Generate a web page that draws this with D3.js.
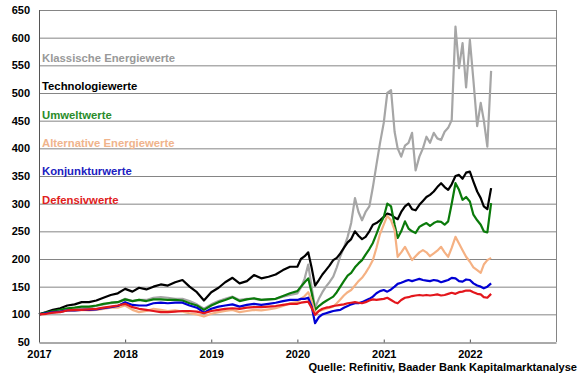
<!DOCTYPE html>
<html>
<head>
<meta charset="utf-8">
<script src="https://cdn.jsdelivr.net/npm/d3@7"></script>
<style>
  body { margin: 0; background: #fff; }
  text { font-family: "Liberation Sans", Arial, sans-serif; font-weight: bold; }
</style>
</head>
<body>
<svg id="chart" width="580" height="375"></svg>
<script>
// dates: monthly until 2019, half-monthly afterwards
var dates = [
  "2017-01-01","2017-02-01","2017-03-01","2017-04-01","2017-05-01","2017-06-01","2017-07-01","2017-08-01","2017-09-01","2017-10-01","2017-11-01","2017-12-01",
  "2018-01-01","2018-02-01","2018-03-01","2018-04-01","2018-05-01","2018-06-01","2018-07-01","2018-08-01","2018-09-01","2018-10-01","2018-11-01","2018-12-01",
  "2019-01-01","2019-02-01","2019-03-01","2019-04-01","2019-05-01","2019-06-01","2019-07-01","2019-08-01","2019-09-01","2019-10-01","2019-11-01","2019-12-01",
  "2020-01-01","2020-01-16","2020-02-01","2020-02-16","2020-03-01","2020-03-16","2020-04-01","2020-04-16","2020-05-01","2020-05-16","2020-06-01","2020-06-16",
  "2020-07-01","2020-07-16","2020-08-01","2020-08-16","2020-09-01","2020-09-16","2020-10-01","2020-10-16","2020-11-01","2020-11-16","2020-12-01","2020-12-16",
  "2021-01-01","2021-01-16","2021-02-01","2021-02-16","2021-03-01","2021-03-16","2021-04-01","2021-04-16","2021-05-01","2021-05-16","2021-06-01","2021-06-16",
  "2021-07-01","2021-07-16","2021-08-01","2021-08-16","2021-09-01","2021-09-16","2021-10-01","2021-10-16","2021-11-01","2021-11-16","2021-12-01","2021-12-16",
  "2022-01-01","2022-01-16","2022-02-01","2022-02-16","2022-03-01","2022-03-16","2022-04-01"
];

var klassischeEnergie = [
  100,102,104,106,108,108,111,112,115,118,120,122,
  128,124,126,126,130,131,130,128,128,124,118,110,
  118,124,128,132,126,128,128,126,127,128,132,135,
  138,148,165,190,150,112,128,140,150,158,168,185,205,220,240,265,310,285,270,285,295,330,370,409,
  446,500,505,430,400,385,405,410,428,360,385,400,421,410,428,418,415,430,437,451,620,545,590,510,
  596,523,440,482,451,403,540
];
var technologie = [
  100,104,108,111,116,118,122,122,125,130,135,138,
  146,141,148,145,150,154,152,158,162,150,140,125,
  140,148,158,166,156,160,171,165,168,172,180,186,
  186,200,205,212,185,152,162,172,180,188,198,202,210,220,230,236,250,242,236,240,250,262,265,270,
  276,282,280,275,272,285,295,300,290,288,298,305,312,316,322,330,337,330,325,335,350,352,345,356,
  358,340,322,310,295,290,328
];
var umwelt = [
  100,103,106,108,111,112,114,114,116,119,121,122,
  127,124,126,124,127,127,126,126,125,120,116,108,
  116,122,126,131,124,127,129,126,127,128,133,138,
  142,150,158,165,140,108,115,120,124,128,132,140,150,160,170,175,185,192,198,208,218,229,245,262,
  276,300,295,262,238,250,268,255,250,247,258,262,265,260,265,268,267,262,268,300,337,325,307,312,
  304,280,270,262,250,248,301
];
var alternativeEnergie = [
  100,101,103,105,107,106,108,107,108,110,112,112,
  116,108,104,106,110,108,106,107,105,102,100,96,
  101,104,106,108,104,106,108,107,109,111,115,120,
  122,128,133,140,125,102,106,108,110,112,114,120,127,134,140,144,152,160,166,175,186,198,220,245,
  262,278,270,252,204,212,222,210,198,205,212,216,212,205,210,215,222,212,204,220,240,228,216,204,
  195,185,180,175,190,198,202
];
var konjunktur = [
  100,102,104,105,107,107,108,108,109,111,113,115,
  122,117,116,116,120,121,120,121,121,116,112,103,
  110,114,116,118,114,117,119,117,119,121,124,126,
  126,128,128,130,115,84,95,100,102,104,106,107,108,112,115,118,120,120,122,125,128,132,138,142,
  144,141,145,150,155,157,160,162,160,162,164,162,161,160,162,161,158,160,162,166,165,160,159,163,
  162,156,152,150,147,150,156
];
var defensiv = [
  100,101,103,104,107,108,108,109,110,112,114,116,
  119,113,110,108,106,104,104,105,106,106,105,102,
  106,108,110,111,110,112,113,113,114,115,117,119,
  119,121,122,123,112,99,106,110,112,113,115,116,117,118,120,121,122,121,120,122,125,127,126,127,
  128,130,126,122,120,126,130,131,133,134,135,134,135,134,135,136,134,135,137,139,137,140,141,143,
  143,140,137,136,131,130,137
];

var seriesNames = ["Klassische Energiewerte", "Technologiewerte", "Umweltwerte",
                   "Alternative Energiewerte", "Konjunkturwerte", "Defensivwerte"];
var seriesValues = [klassischeEnergie, technologie, umwelt, alternativeEnergie, konjunktur, defensiv];
var lineColors = ["#a6a6a6", "#000000", "#0a7a0a", "#f5b183", "#0000d4", "#e3161c"];
var labelColors = ["#999999", "#000000", "#2a8c2a", "#f0b48c", "#2020c0", "#e02020"];

var yTicks = [50, 100, 150, 200, 250, 300, 350, 400, 450, 500, 550, 600, 650];
var source = "Quelle: Refinitiv, Baader Bank Kapitalmarktanalyse";

var margin = {left: 39, right: 556, top: 10, bottom: 342};
var parseDate = d3.timeParse("%Y-%m-%d");

var svg = d3.select("#chart");

var x = d3.scaleTime()
    .domain([new Date(2017, 0, 1), new Date(2023, 0, 1)])
    .range([margin.left, margin.right]);
var y = d3.scaleLinear()
    .domain([50, 650])
    .range([margin.bottom, margin.top]);

// grid lines
svg.append("g").selectAll("line")
    .data(yTicks.slice(1))
    .enter().append("line")
    .attr("x1", margin.left).attr("x2", margin.right)
    .attr("y1", d => y(d) + 0.5).attr("y2", d => y(d) + 0.5)
    .attr("stroke", "#858585").attr("stroke-width", 1);

// right border
svg.append("line")
    .attr("x1", margin.right + 0.5).attr("x2", margin.right + 0.5)
    .attr("y1", y(650)).attr("y2", y(50))
    .attr("stroke", "#858585");

// y labels
svg.append("g").selectAll("text")
    .data(yTicks)
    .enter().append("text")
    .attr("x", 30)
    .attr("y", d => y(d) + 4)
    .attr("text-anchor", "end")
    .style("font-size", "11px")
    .text(d => d);

// lines
var line = d3.line()
    .x(d => x(d.date))
    .y(d => y(d.v));

seriesValues.forEach(function(vals, i) {
    var pts = vals.map((v, j) => ({date: parseDate(dates[j]), v: v}));
    svg.append("path")
        .datum(pts)
        .attr("fill", "none")
        .attr("stroke", lineColors[i])
        .attr("stroke-width", 2.2)
        .attr("stroke-linejoin", "round")
        .attr("d", line);
});

// axes on top
var xAxis = d3.axisBottom(x)
    .ticks(d3.timeYear.every(1))
    .tickFormat(d3.timeFormat("%Y"))
    .tickSizeInner(-3)
    .tickSizeOuter(0)
    .tickPadding(8);

var gx = svg.append("g")
    .attr("transform", "translate(0," + (margin.bottom + 0.5) + ")")
    .call(xAxis);
gx.select(".domain").attr("stroke", "#555");
gx.selectAll(".tick line").attr("stroke", "#555");
gx.selectAll(".tick text")
    .style("font-size", "11px")
    .style("font-family", "'Liberation Sans', Arial, sans-serif")
    .style("font-weight", "bold")
    .attr("fill", "#000");
gx.selectAll(".tick").filter(d => d.getFullYear() === 2023).remove();

svg.append("line")
    .attr("x1", margin.left + 0.5).attr("x2", margin.left + 0.5)
    .attr("y1", y(650)).attr("y2", y(50))
    .attr("stroke", "#555");

// legend labels
svg.append("g").selectAll("text")
    .data(seriesNames)
    .enter().append("text")
    .attr("x", 42)
    .attr("y", (d, i) => 62 + i * 28.3)
    .attr("fill", (d, i) => labelColors[i])
    .style("font-size", "11.3px")
    .text(d => d);

// source
svg.append("text")
    .attr("x", 577)
    .attr("y", 371)
    .attr("text-anchor", "end")
    .style("font-size", "11.1px")
    .text(source);
</script>
</body>
</html>
